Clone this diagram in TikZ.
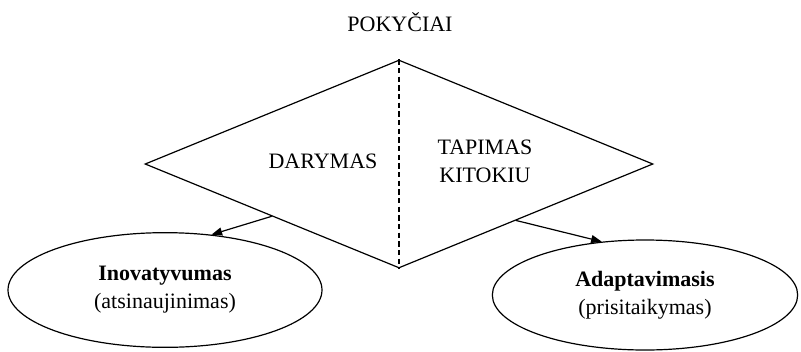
\documentclass[tikz,border=0pt]{standalone}
\usepackage{fontspec}
\setmainfont{Liberation Serif}
\usetikzlibrary{arrows.meta,positioning,shapes.geometric,calc}

\begin{document}
\begin{tikzpicture}[x=0.75pt,y=-0.75pt,
    every node/.style={font=\fontsize{16.5}{21}\selectfont},
    rhomb/.style={diamond, draw, line width=0.9pt, inner sep=0pt,
      minimum width=381pt, minimum height=156pt},
    outcome/.style={ellipse, draw, line width=0.9pt, inner sep=0pt, align=center},
    link/.style={-{Triangle[length=8pt,width=6pt]}, line width=0.9pt}]
  \useasboundingbox (0,0) rectangle (801,351);

  \node (title) at (400,22) {POKYČIAI};

  % the two halves of change
  \node[rhomb] (dm) at (399,164) {};
  \draw[line width=0.9pt, dash pattern=on 4pt off 2.5pt] (dm.north) -- (dm.south);
  \node (doing) at (323,161) {DARYMAS};
  \node[align=center] (becoming) at (485,161) {TAPIMAS\\KITOKIU};

  % outcomes
  \node[outcome, minimum width=235.5pt, minimum height=86pt] (inov) at (165,290)
    {\textbf{Inovatyvumas}\\(atsinaujinimas)};
  \node[outcome, minimum width=229pt, minimum height=82.5pt] (adapt) at (645,295)
    {\textbf{Adaptavimasis}\\(prisitaikymas)};

  \draw[link] (dm.south west) -- (inov.50);
  \draw[link] ($(dm.south)!0.46!(dm.east)$) -- (adapt.129);
\end{tikzpicture}
\end{document}
